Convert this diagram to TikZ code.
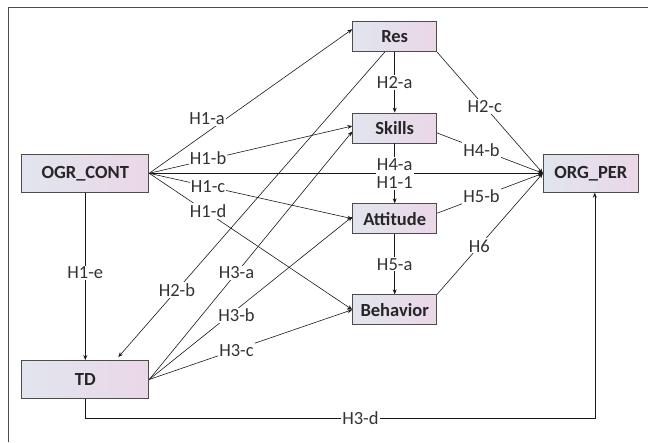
\documentclass[tikz,border=0pt]{standalone}
\usepackage{fontspec}
\setmainfont{Carlito}
\usetikzlibrary{arrows.meta,calc}
\begin{document}
\begin{tikzpicture}[x=1pt,y=-1pt,
  box/.style={draw=black!70,line width=0.8pt,left color=boxl,right color=boxr,
    font=\fontsize{18.5}{20}\selectfont\bfseries,text=black!85,inner sep=0pt},
  mid/.style={box,minimum width=84pt,minimum height=30pt},
  outer/.style={box,minimum width=127pt,minimum height=38pt},
  link/.style={draw=black!90,line width=0.6pt},
  arr/.style={link,-{Stealth[length=5pt,width=4pt]}},
  lab/.style={fill=white,inner sep=1.2pt,font=\fontsize{18.5}{19}\selectfont,text=black!80}]
\definecolor{boxl}{HTML}{E1E5EE}
\definecolor{boxr}{HTML}{EBD7E7}
\useasboundingbox (0,0) rectangle (648,442);
\draw[black!70,line width=0.8pt] (8,442) -- (8,7) -- (648,7);
% nodes
\node[mid] (res) at (394.7,36.7) {Res};
\node[mid] (skills) at (394.7,128) {Skills};
\node[mid] (att) at (394.7,218.7) {Attitude};
\node[mid] (beh) at (394.7,309.7) {Behavior};
\node[outer] (ogr) at (85.3,173.3) {OGR\_CONT};
\node[outer] (td) at (85.3,379.5) {TD};
\node[box,minimum width=95pt,minimum height=38pt] (per) at (590.8,173.3) {ORG\_PER};
\coordinate (ogrE) at (ogr.east);
\coordinate (tdE) at (td.east);
\coordinate (perW) at (per.west);
\coordinate (resIn) at ([yshift=7.5pt]res.west);
\coordinate (resOut) at (res.south east);
\coordinate (resBL) at ([xshift=-10pt]res.south);
\coordinate (tdIn) at ([xshift=33pt,yshift=3pt]td.north);
\coordinate (behOut) at (beh.north east);
\coordinate (skOut) at ([yshift=-5pt]skills.east);
\coordinate (atOut) at ([yshift=5.5pt]att.east);
\coordinate (perIn) at ([xshift=4pt]per.south);
\coordinate (c1) at (85.3,418.3);
\coordinate (c2) at (perIn |- c1);
% OGR_CONT edges
\draw[arr] (ogrE) -- node[lab,pos=0.29,yshift=13pt,xshift=-1pt] {H1-a} (resIn);
\draw[arr] (ogrE) -- node[lab,pos=0.29,yshift=1pt] {H1-b} ([yshift=2pt]skills.west);
\draw[arr] (ogrE) -- (perW);
\draw[arr] (ogrE) -- node[lab,pos=0.29] {H1-c} (att.west);
\draw[arr] (ogrE) -- node[lab,pos=0.29,yshift=2pt] {H1-d} (beh.west);
\draw[arr] (ogr.south) -- node[lab,pos=0.48] {H1-e} (td.north);
% Res edges
\draw[arr] (res.south) -- node[lab] {H2-a} (skills.north);
\draw[arr] (resBL) -- node[lab,pos=0.78] {H2-b} (tdIn);
\draw[arr] (resOut) -- node[lab,pos=0.45] {H2-c} (perW);
% Skills, Attitude, Behavior
\draw[arr] (skills.south) -- (att.north);
\node[lab,align=center,font=\fontsize{18.5}{18.5}\selectfont] (x) at (394.7,173.5) {H4-a\\H1-1};
\draw[arr] (skOut) -- node[lab,pos=0.42] {H4-b} (perW);
\draw[arr] (atOut) -- node[lab,pos=0.42] {H5-b} (perW);
\draw[arr] (att.south) -- node[lab] {H5-a} (beh.north);
\draw[arr] (behOut) -- node[lab,pos=0.4] {H6} (perW);
% TD edges
\draw[arr] (tdE) -- node[lab,pos=0.43] {H3-a} ([yshift=-3.5pt]skills.west);
\draw[arr] (tdE) -- node[lab,pos=0.43,yshift=-6pt] {H3-b} ([yshift=2pt]att.west);
\draw[arr] (tdE) -- node[lab,pos=0.43,yshift=-1pt] {H3-c} (beh.west);
\draw[arr] (td.south) -- (c1) -- node[lab,pos=0.54] {H3-d} (c2) -- (perIn);
\end{tikzpicture}
\end{document}
